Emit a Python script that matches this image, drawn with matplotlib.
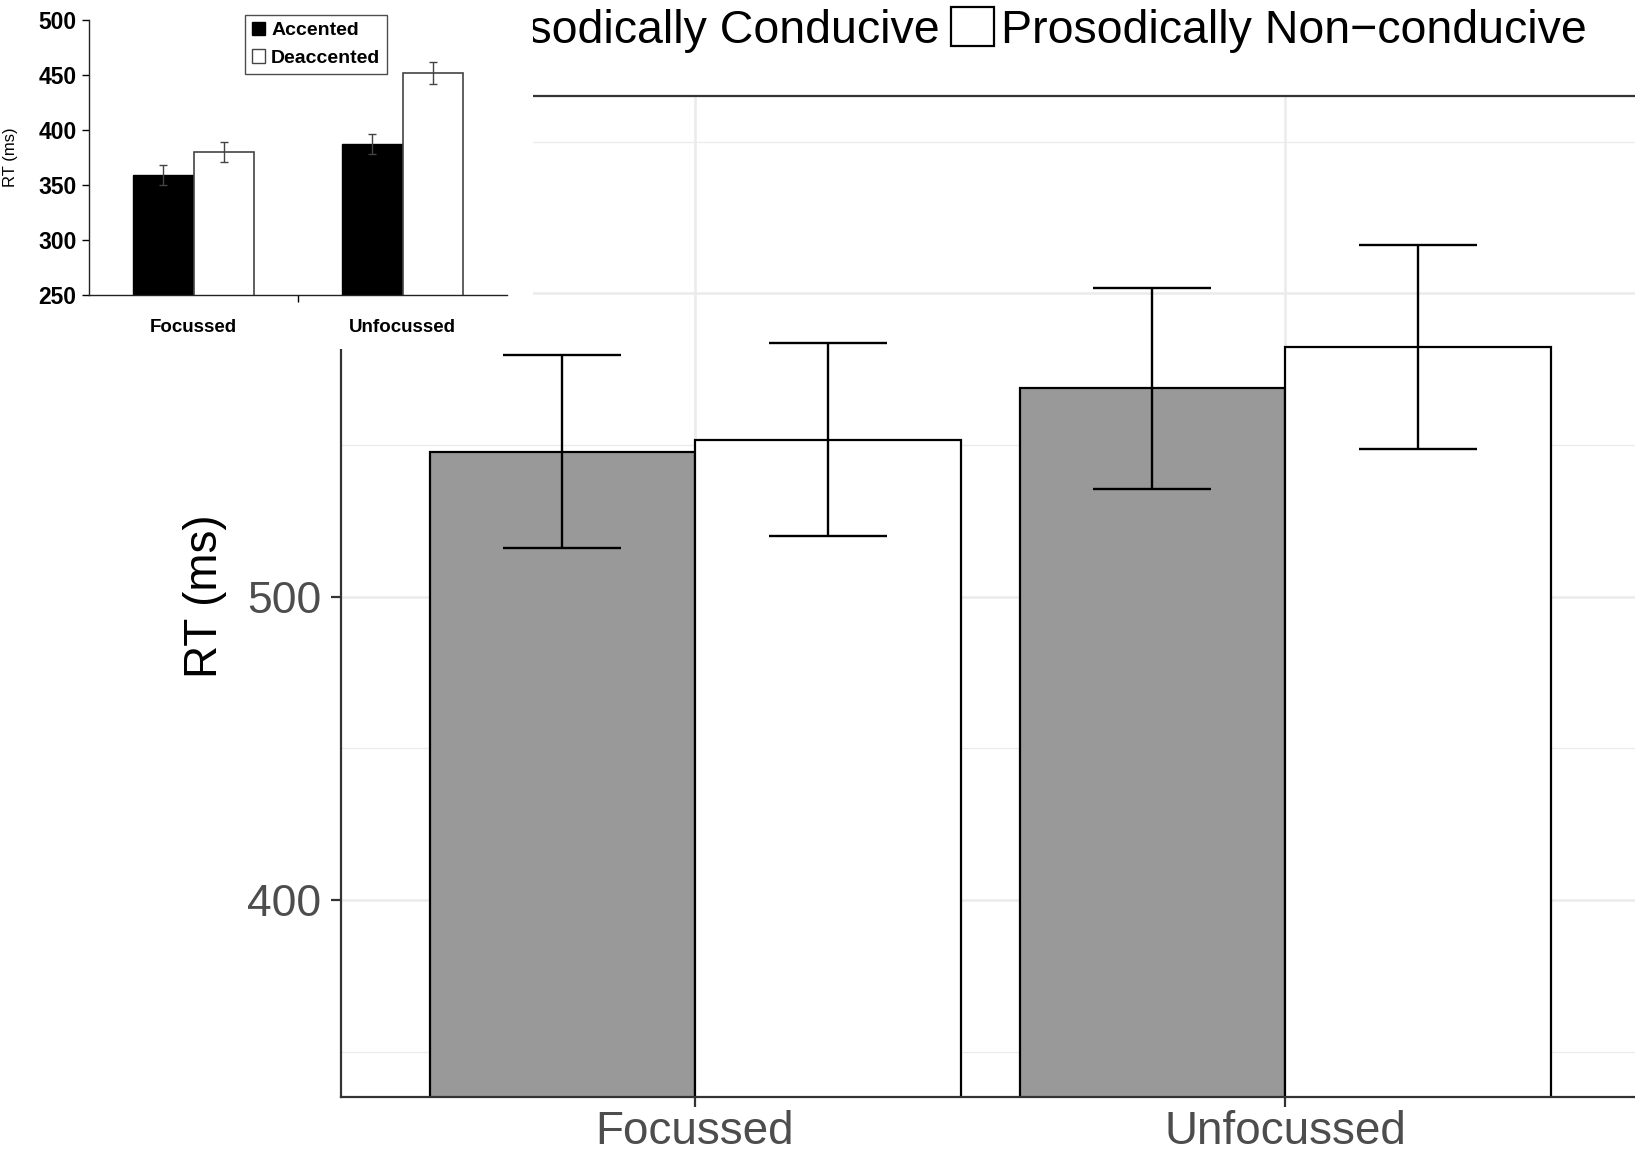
import numpy as np
from matplotlib import pyplot as plt
from matplotlib.patches import Patch

plt.rcParams['font.family'] = ['Liberation Sans', 'DejaVu Sans']

# main experiment: mean RT and standard error per focus condition
groups = ['Focussed', 'Unfocussed']
conducive_rt = [547.8, 568.6]
conducive_se = [31.9, 33.2]
nonconducive_rt = [551.7, 582.2]
nonconducive_se = [31.9, 33.6]
legend_labels = ['Prosodically Conducive', 'Prosodically Non\u2212conducive']

# earlier study shown in the corner
inset_groups = ['Focussed', 'Unfocussed']
accented_rt = [359, 387]
accented_se = [9, 9]
deaccented_rt = [380, 451.5]
deaccented_se = [9.5, 10]
inset_labels = ['Accented', 'Deaccented']

W, H = 1635, 1155
fig = plt.figure(figsize=(W / 100, H / 100), dpi=100)


def px_box(left, top, right, bottom):
    return [left / W, 1 - bottom / H, (right - left) / W, (bottom - top) / H]


# ---- main chart ----
ax = fig.add_axes(px_box(341, 96, 1639, 1097))
x = np.arange(1, len(groups) + 1)
bw = 0.45
ax.set_xlim(0.4, 2.6)
ax.set_ylim(335, 665)
ax.set_yticks([400, 500, 600])
ax.set_yticks([350, 450, 550, 650], minor=True)
ax.set_xticks(x, groups)
ax.grid(which='major', color='#ebebeb', lw=1.8, zorder=0)
ax.grid(which='minor', axis='y', color='#ebebeb', lw=0.9, zorder=0)
ax.set_axisbelow(True)

for off, rt, se, fc in [(-bw / 2, conducive_rt, conducive_se, '#999999'),
                        (bw / 2, nonconducive_rt, nonconducive_se, 'white')]:
    xs = x + off
    rt = np.array(rt)
    se = np.array(se)
    ax.bar(xs, rt, width=bw, color=fc, edgecolor='black', lw=1.6, zorder=2)
    ax.vlines(xs, rt - se, rt + se, color='black', lw=1.7, zorder=3)
    ax.hlines(rt - se, xs - 0.1, xs + 0.1, color='black', lw=1.7, zorder=3)
    ax.hlines(rt + se, xs - 0.1, xs + 0.1, color='black', lw=1.7, zorder=3)

for s in ax.spines.values():
    s.set_color('#333333')
    s.set_linewidth(1.6)
ax.tick_params(which='major', length=7, width=1.6, color='#333333',
               labelcolor='#4d4d4d')
ax.tick_params(axis='y', pad=7, labelsize=32)
ax.tick_params(axis='x', pad=2, labelsize=33)
ax.tick_params(which='minor', length=0)
ax.set_ylabel('RT (ms)', fontsize=33, color='black')
ax.yaxis.set_label_coords(-0.0877, 0.5)

handles = [Patch(facecolor='#999999', edgecolor='black', lw=1.6),
           Patch(facecolor='white', edgecolor='black', lw=1.6)]
fig.legend(handles, legend_labels, ncol=2, loc='center right',
           bbox_to_anchor=(1587 / W, 1 - 30 / H), frameon=False, fontsize=33.5,
           handlelength=0.92, handleheight=0.92, handletextpad=0.16,
           columnspacing=0.25, borderpad=0, borderaxespad=0)

# ---- inset chart on a white panel ----
panel = fig.add_axes(px_box(0, 0, 533, 349), zorder=10)
panel.set_facecolor('white')
panel.set_xticks([])
panel.set_yticks([])
for s in panel.spines.values():
    s.set_visible(False)

ins = fig.add_axes(px_box(89, 20, 507, 295), zorder=11)
ins.patch.set_alpha(0)
xi = np.arange(len(inset_groups))
ibw = 0.29
ins.bar(xi - ibw / 2, accented_rt, width=ibw, color='black', edgecolor='black', lw=1)
ins.bar(xi + ibw / 2, deaccented_rt, width=ibw, color='white', edgecolor='#444444', lw=1.2)
ins.errorbar(xi - ibw / 2, accented_rt, yerr=accented_se, fmt='none',
             ecolor='#444444', elinewidth=1, capsize=3)
ins.errorbar(xi + ibw / 2, deaccented_rt, yerr=deaccented_se, fmt='none',
             ecolor='#444444', elinewidth=1, capsize=3)
ins.set_xlim(-0.5, 1.5)
ins.set_ylim(250, 500)
ins.set_yticks(np.arange(250, 501, 50))
ins.set_xticks(xi, inset_groups)
ins.set_xticks([0.5], minor=True)
for s in ['top', 'right']:
    ins.spines[s].set_visible(False)
for s in ['left', 'bottom']:
    ins.spines[s].set_color('#222222')
    ins.spines[s].set_linewidth(1)
ins.tick_params(axis='y', length=5, width=1, pad=4, labelsize=16.5)
ins.tick_params(axis='x', which='major', length=0, pad=17, labelsize=13.5)
ins.tick_params(axis='x', which='minor', length=5, width=1)
for lab in ins.get_xticklabels() + ins.get_yticklabels():
    lab.set_fontweight('bold')
ins.set_ylabel('RT (ms)', fontsize=12)
ins.yaxis.set_label_coords(-0.17, 0.5)

ihandles = [Patch(facecolor='black', edgecolor='black'),
            Patch(facecolor='white', edgecolor='#444444')]
ileg = ins.legend(ihandles, inset_labels, loc='upper left',
                  bbox_to_anchor=(0.373, 1.018), borderaxespad=0,
                  prop={'size': 14, 'weight': 'bold'}, fancybox=False,
                  handlelength=0.7, handleheight=0.7, handletextpad=0.3,
                  labelspacing=0.5, borderpad=0.35)
ileg.get_frame().set_edgecolor('#222222')
ileg.get_frame().set_linewidth(1)

fig.savefig('out.png', dpi=100)
